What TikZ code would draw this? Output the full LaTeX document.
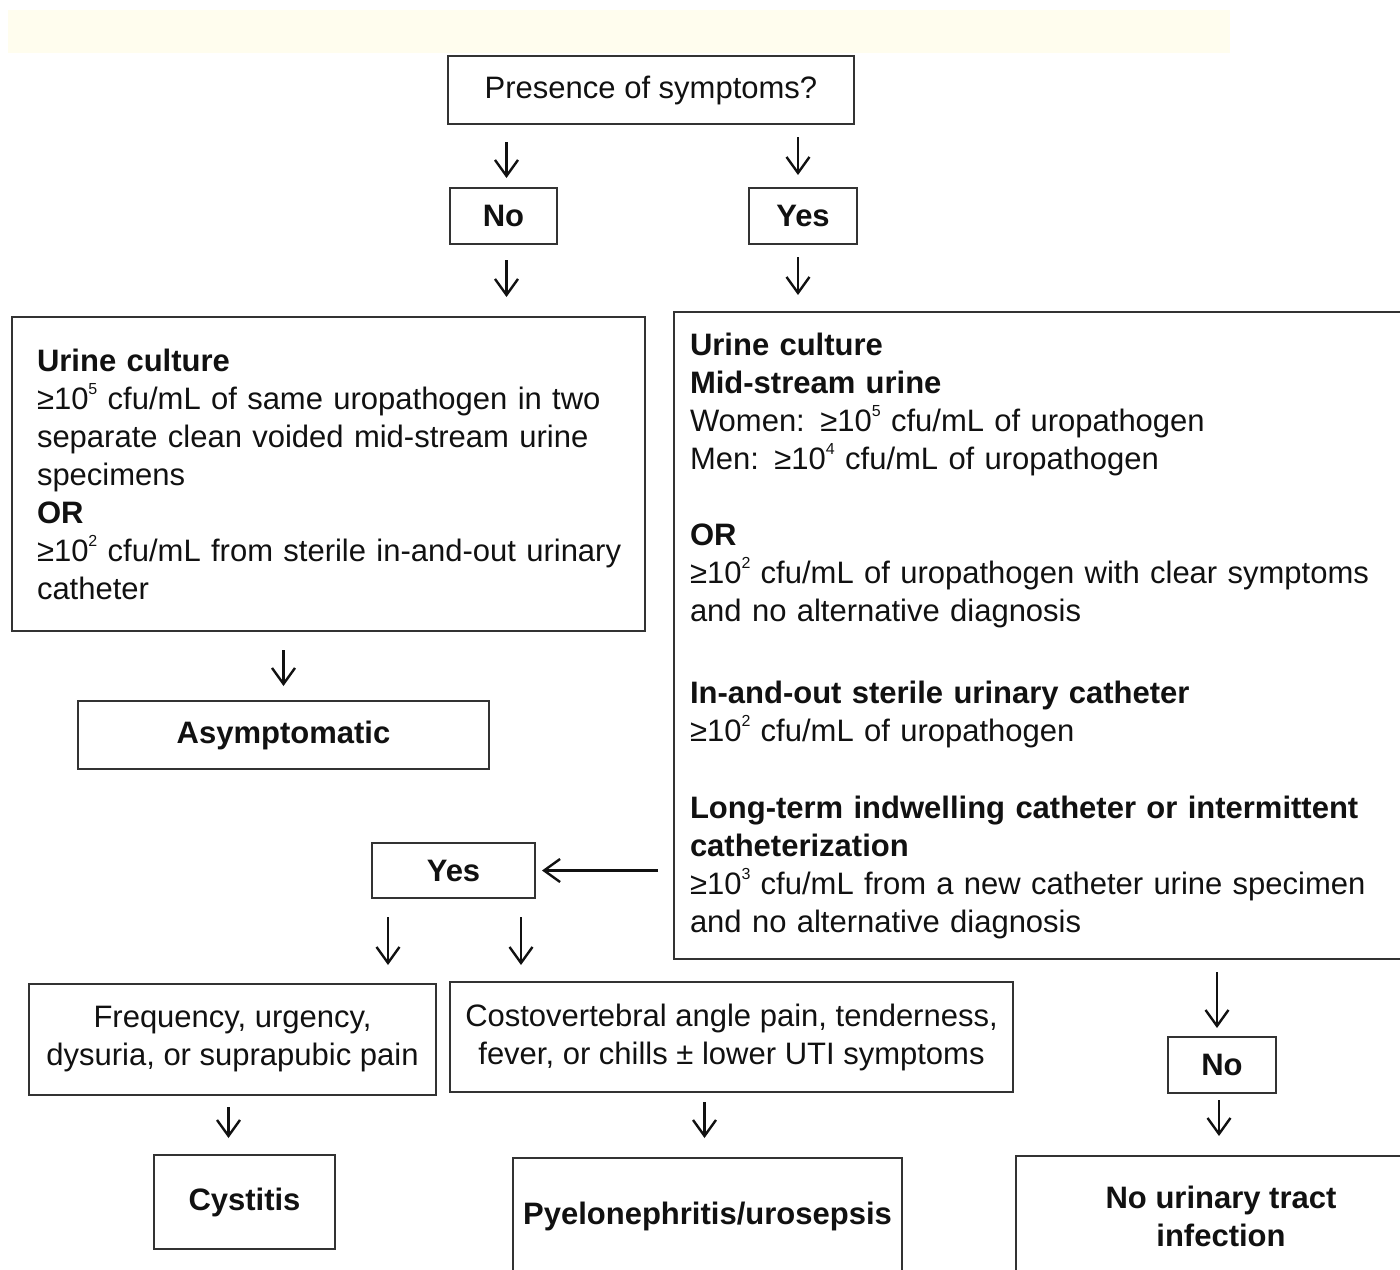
\documentclass[tikz,border=0pt]{standalone}
\usepackage{fontspec}
\setmainfont{Liberation Sans}
\usetikzlibrary{arrows.meta,calc}
\definecolor{band}{HTML}{FFFDEE}
\definecolor{edge}{HTML}{333333}
\definecolor{ink}{HTML}{111111}
\newcommand{\expo}[1]{\raisebox{0.46em}{\fontsize{16pt}{16pt}\selectfont #1}}
\begin{document}
\begin{tikzpicture}[x=1pt,y=-1pt,
  box/.style={draw=edge, line width=2pt, inner sep=0pt, anchor=north west,
    font=\fontsize{31pt}{38pt}\selectfont, text=ink},
  bbox/.style={box, font=\fontsize{31pt}{38pt}\selectfont\bfseries},
  arr/.style={-{Straight Barb[length=16pt,width=23pt,line width=2.4pt]}, line width=2.3pt, draw=ink}]
\useasboundingbox (0,0) rectangle (1400,1269);
\clip (0,0) rectangle (1400,1269);
\fill[band] (8,10) rectangle (1230,53);

% nodes
\node[box, minimum width=406pt, minimum height=68pt] (pres) at (447,55) {Presence of symptoms?};
\node[bbox, minimum width=107pt, minimum height=56pt] (no1) at (449,187) {No};
\node[bbox, minimum width=108pt, minimum height=56pt] (yes1) at (748,187) {Yes};

\node[box, text width=583pt, inner xsep=25pt, minimum height=314pt, align=left] (lbox) at (11,316)
 {\textbf{Urine culture}\\
  \mbox{≥10\expo{5} cfu/mL of same uropathogen in two}\\
  \mbox{separate clean voided mid-stream urine}\\
  specimens\\
  \textbf{OR}\\
  \mbox{≥10\expo{2} cfu/mL from sterile in-and-out urinary}\\
  catheter};

\node[box, text width=728pt, inner xsep=16pt, minimum height=647pt, align=left] (rbox) at (673,311)
 {\textbf{Urine culture}\\
  \textbf{Mid-stream urine}\\
  Women: ≥10\expo{5} cfu/mL of uropathogen\\
  Men: ≥10\expo{4} cfu/mL of uropathogen\\[38pt]
  \textbf{OR}\\
  ≥10\expo{2} cfu/mL of uropathogen with clear symptoms\\
  and no alternative diagnosis\\[44pt]
  \textbf{In-and-out sterile urinary catheter}\\
  ≥10\expo{2} cfu/mL of uropathogen\\[39pt]
  \textbf{Long-term indwelling catheter or intermittent}\\
  \textbf{catheterization}\\
  ≥10\expo{3} cfu/mL from a new catheter urine specimen\\
  and no alternative diagnosis};

\node[bbox, minimum width=411pt, minimum height=68pt] (asym) at (77,700) {Asymptomatic};
\node[bbox, minimum width=163pt, minimum height=55pt] (yes2) at (371,842) {Yes};
\node[box, minimum width=407pt, minimum height=111pt, align=center] (freq) at (28,983)
 {Frequency, urgency,\\dysuria, or suprapubic pain};
\node[box, minimum width=563pt, minimum height=110pt, align=center] (cost) at (449,981)
 {Costovertebral angle pain, tenderness,\\fever, or chills ± lower UTI symptoms};
\node[bbox, minimum width=108pt, minimum height=56pt] (no3) at (1167,1036) {No};
\node[bbox, minimum width=181pt, minimum height=94pt] (cyst) at (153,1154) {Cystitis};
\node[bbox, minimum width=389pt, minimum height=116pt] (pyelo) at (512,1157) {Pyelonephritis/urosepsis};
\node[bbox, minimum width=410pt, minimum height=120pt, align=center] (nuti) at (1015,1155)
 {No urinary tract\\infection};

% connectors
\draw[arr, shorten <=17pt, shorten >=9pt] ($(pres.south -| no1.north)+(3,0)$) -- ($(no1.north)+(3,0)$);
\draw[arr, shorten <=12pt, shorten >=12pt] ($(pres.south -| yes1.north)+(-5,0)$) -- ($(yes1.north)+(-5,0)$);
\draw[arr, shorten <=15pt, shorten >=19pt] ($(no1.south)+(3,0)$) -- ($(no1.south |- lbox.north)+(3,0)$);
\draw[arr, shorten <=12pt, shorten >=16pt] ($(yes1.south)+(-5,0)$) -- ($(yes1.south |- rbox.north)+(-5,0)$);
\draw[arr, shorten <=18pt, shorten >=14pt] (asym.north |- lbox.south) -- (asym.north);
\draw[arr, shorten <=15pt, shorten >=6pt] (yes2.east -| rbox.west) -- (yes2.east);
\coordinate (ya) at ($(yes2.south west)+(17,0)$);
\coordinate (yb) at ($(yes2.south east)+(-15,0)$);
\draw[arr, shorten <=18pt, shorten >=18pt] (ya) -- (ya |- freq.north);
\draw[arr, shorten <=18pt, shorten >=16pt] (yb) -- (yb |- cost.north);
\coordinate (fa) at ($(freq.south)+(-4,0)$);
\draw[arr, shorten <=11pt, shorten >=16pt] (fa) -- (fa |- cyst.north);
\coordinate (ca) at ($(cost.south)+(-27,0)$);
\draw[arr, shorten <=9pt, shorten >=19pt] (ca) -- (ca |- pyelo.north);
\draw[arr, shorten <=12pt, shorten >=8pt] ($(no3.north |- rbox.south)+(-5,0)$) -- ($(no3.north)+(-5,0)$);
\draw[arr, shorten <=6pt, shorten >=19pt] ($(no3.south)+(-3,0)$) -- ($(no3.south |- nuti.north)+(-3,0)$);
\end{tikzpicture}
\end{document}
